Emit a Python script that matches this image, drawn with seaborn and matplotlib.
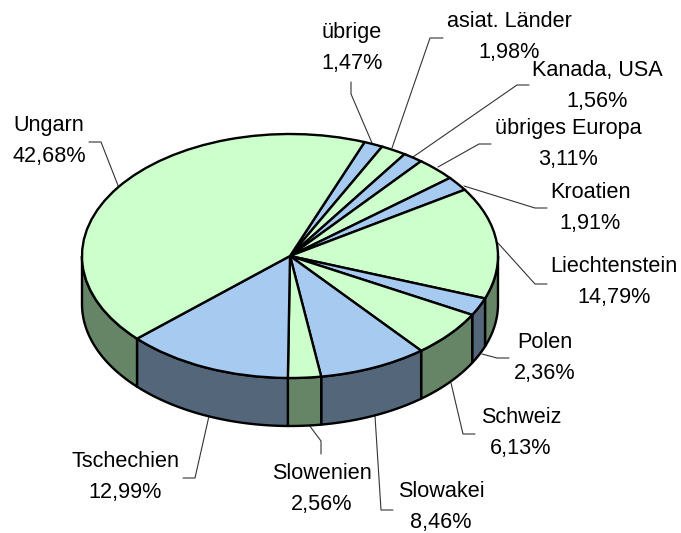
import numpy as np
import matplotlib
matplotlib.use("Agg")
import matplotlib.pyplot as plt
import seaborn as sns

sns.set_theme(style="white")
plt.rcParams['font.family'] = ['Liberation Sans', 'DejaVu Sans']

categories = ["übrige", "asiat. Länder", "Kanada, USA", "übriges Europa", "Kroatien",
              "Liechtenstein", "Polen", "Schweiz", "Slowakei", "Slowenien",
              "Tschechien", "Ungarn"]
values = [1.47, 1.98, 1.56, 3.11, 1.91, 14.79, 2.36, 6.13, 8.46, 2.56, 12.99, 42.68]
value_labels = ["1,47%", "1,98%", "1,56%", "3,11%", "1,91%", "14,79%", "2,36%", "6,13%",
                "8,46%", "2,56%", "12,99%", "42,68%"]
top_colors = ["#A6CAF0", "#CCFFCC"] * 6
side_colors = ["#53667A", "#668566"] * 6

# picture geometry, in pixels
CX, CY, RX, RY, DEPTH = 290, 256, 208, 122, 48
START = 69
W, H = 681, 533

label_xy = [(352, 48), (509, 37), (597, 86), (568, 144), (590, 208), (614, 282),
            (545, 358), (521, 433), (441, 507), (322, 489), (125, 477), (49, 141)]
leaders = [[(351, 82), (351, 94), (372, 143)],
           [(443, 38), (430, 38), (392, 148)],
           [(529, 85), (517, 85), (413, 157)],
           [(491, 144), (479, 144), (438, 167)],
           [(547, 208), (535, 208), (464, 186)],
           [(547, 284), (535, 284), (498, 243)],
           [(509, 358), (497, 358), (482, 354)],
           [(475, 434), (463, 434), (451, 383)],
           [(393, 510), (381, 510), (375, 416)],
           [(321, 454), (321, 441), (309, 425)],
           [(183, 478), (195, 478), (209, 416)],
           [(89, 142), (101, 142), (119, 188)]]


def ux(px):
    return (px - CX) / RX


def uy(py):
    return (CY - py) / RY


fig = plt.figure(figsize=(W / 100, H / 100), dpi=100, facecolor="white")
ax = fig.add_axes([0, 0, 1, 1])

wedges, _ = ax.pie(values, colors=top_colors, startangle=START, counterclock=False,
                   radius=1.0, wedgeprops=dict(edgecolor="black", linewidth=1.7, zorder=5))
ax.set_aspect("auto")
ax.set_xlim(ux(0), ux(W))
ax.set_ylim(uy(H), uy(0))

# side wall: the part of each slice's rim on the front half of the ellipse
d = DEPTH / RY
edges = START - np.cumsum([0] + values) * 3.6
for a1, a0, col in zip(edges[:-1], edges[1:], side_colors):
    segments = []
    for k in (0, 360):
        lo, hi = max(a0 + k, -180), min(a1 + k, 0)
        if hi > lo:
            segments.append((lo, hi))
    for lo, hi in segments:
        t = np.radians(np.linspace(lo, hi, 80))
        xs = np.r_[np.cos(t), np.cos(t[::-1])]
        ys = np.r_[np.sin(t), np.sin(t[::-1]) - d]
        ax.fill(xs, ys, facecolor=col, edgecolor="black", linewidth=1.7, zorder=3,
                joinstyle="round")

for pts in leaders:
    ax.plot([ux(p[0]) for p in pts], [uy(p[1]) for p in pts], color="#333333",
            lw=0.8, zorder=2, solid_joinstyle="miter")

for cat, lab, (px, py) in zip(categories, value_labels, label_xy):
    ax.text(ux(px), uy(py), f"{cat}\n{lab}", ha="center", va="center", fontsize=15.6,
            color="black", linespacing=1.6, zorder=6)

fig.savefig("out.png", dpi=100)
